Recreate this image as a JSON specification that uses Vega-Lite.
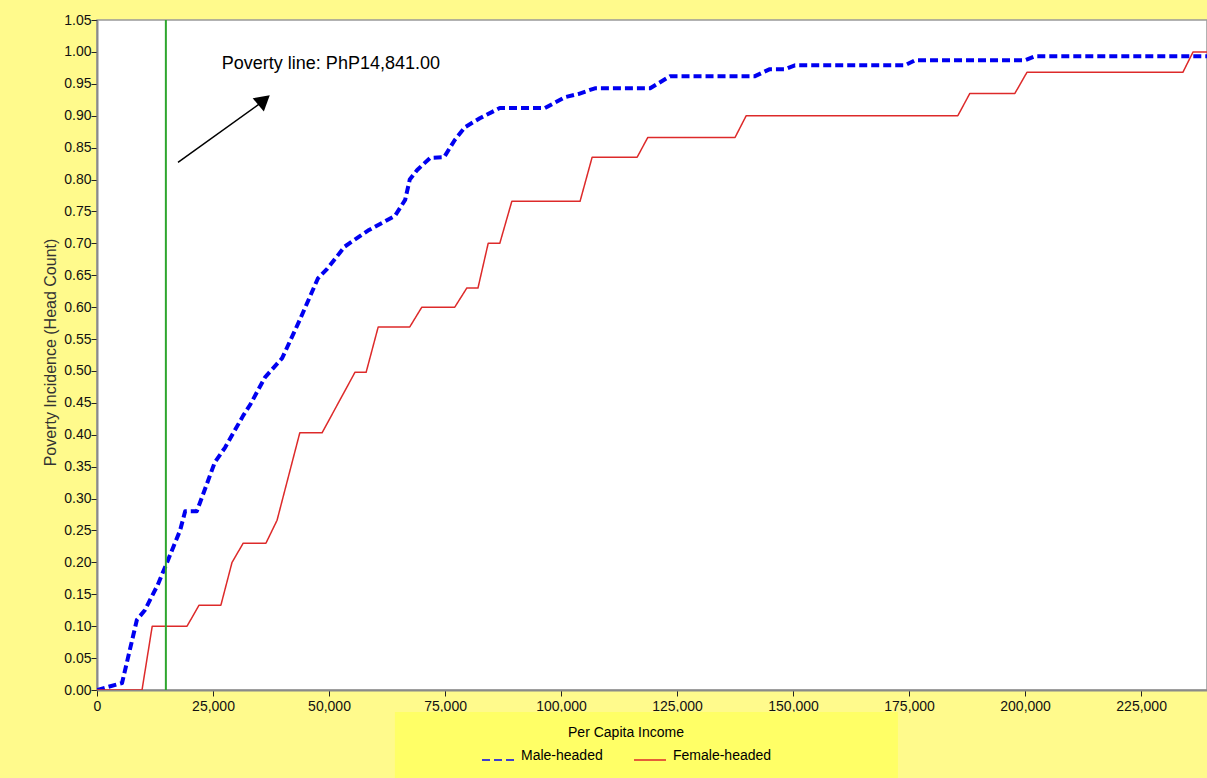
{
  "$schema": "https://vega.github.io/schema/vega-lite/v6.json",
  "width": 1110,
  "height": 670,
  "autosize": {"type": "none"},
  "padding": {"left": 97, "top": 20, "right": 0, "bottom": 88},
  "background": "#FFFA8C",
  "config": {
    "font": "Liberation Sans",
    "view": {"fill": "#FFFFFF", "stroke": "#999999", "strokeWidth": 1.5},
    "axis": {"grid": false, "labelFontSize": 14, "labelColor": "#111111", "tickColor": "#222222", "tickSize": 6, "domainColor": "#8a8a8a", "domainWidth": 2, "titleFontWeight": "normal"}
  },
  "layer": [
    {
      "data": {"values": [
        {"series": "Male-headed", "income": 0, "incidence": 0},
        {"series": "Male-headed", "income": 5400, "incidence": 0.011},
        {"series": "Male-headed", "income": 8600, "incidence": 0.11},
        {"series": "Male-headed", "income": 10300, "incidence": 0.125},
        {"series": "Male-headed", "income": 13100, "incidence": 0.165},
        {"series": "Male-headed", "income": 15100, "incidence": 0.2},
        {"series": "Male-headed", "income": 17900, "incidence": 0.25},
        {"series": "Male-headed", "income": 19000, "incidence": 0.28},
        {"series": "Male-headed", "income": 21500, "incidence": 0.28},
        {"series": "Male-headed", "income": 25400, "incidence": 0.357},
        {"series": "Male-headed", "income": 27600, "incidence": 0.38},
        {"series": "Male-headed", "income": 31500, "incidence": 0.43},
        {"series": "Male-headed", "income": 33000, "incidence": 0.447},
        {"series": "Male-headed", "income": 36200, "incidence": 0.49},
        {"series": "Male-headed", "income": 39900, "incidence": 0.52},
        {"series": "Male-headed", "income": 43700, "incidence": 0.58},
        {"series": "Male-headed", "income": 47600, "incidence": 0.645},
        {"series": "Male-headed", "income": 49600, "incidence": 0.66},
        {"series": "Male-headed", "income": 53400, "incidence": 0.695},
        {"series": "Male-headed", "income": 58400, "incidence": 0.72},
        {"series": "Male-headed", "income": 64200, "incidence": 0.743},
        {"series": "Male-headed", "income": 66400, "incidence": 0.768},
        {"series": "Male-headed", "income": 67400, "incidence": 0.8},
        {"series": "Male-headed", "income": 69000, "incidence": 0.815},
        {"series": "Male-headed", "income": 71800, "incidence": 0.834},
        {"series": "Male-headed", "income": 74800, "incidence": 0.835},
        {"series": "Male-headed", "income": 77100, "incidence": 0.862},
        {"series": "Male-headed", "income": 79300, "incidence": 0.882},
        {"series": "Male-headed", "income": 82500, "incidence": 0.896},
        {"series": "Male-headed", "income": 86800, "incidence": 0.912},
        {"series": "Male-headed", "income": 96500, "incidence": 0.912},
        {"series": "Male-headed", "income": 100800, "incidence": 0.929},
        {"series": "Male-headed", "income": 103700, "incidence": 0.934},
        {"series": "Male-headed", "income": 107300, "incidence": 0.943},
        {"series": "Male-headed", "income": 119200, "incidence": 0.943},
        {"series": "Male-headed", "income": 123500, "incidence": 0.962},
        {"series": "Male-headed", "income": 141800, "incidence": 0.962},
        {"series": "Male-headed", "income": 145000, "incidence": 0.973},
        {"series": "Male-headed", "income": 148300, "incidence": 0.973},
        {"series": "Male-headed", "income": 150400, "incidence": 0.979},
        {"series": "Male-headed", "income": 174100, "incidence": 0.979},
        {"series": "Male-headed", "income": 176300, "incidence": 0.987},
        {"series": "Male-headed", "income": 200000, "incidence": 0.987},
        {"series": "Male-headed", "income": 202100, "incidence": 0.993},
        {"series": "Male-headed", "income": 239200, "incidence": 0.993},
        {"series": "Female-headed", "income": 0, "incidence": 0},
        {"series": "Female-headed", "income": 9700, "incidence": 0},
        {"series": "Female-headed", "income": 11900, "incidence": 0.1},
        {"series": "Female-headed", "income": 19400, "incidence": 0.1},
        {"series": "Female-headed", "income": 22000, "incidence": 0.133},
        {"series": "Female-headed", "income": 26700, "incidence": 0.133},
        {"series": "Female-headed", "income": 29100, "incidence": 0.2},
        {"series": "Female-headed", "income": 31500, "incidence": 0.23},
        {"series": "Female-headed", "income": 36400, "incidence": 0.23},
        {"series": "Female-headed", "income": 38800, "incidence": 0.266},
        {"series": "Female-headed", "income": 43700, "incidence": 0.403},
        {"series": "Female-headed", "income": 48500, "incidence": 0.403},
        {"series": "Female-headed", "income": 55600, "incidence": 0.498},
        {"series": "Female-headed", "income": 58000, "incidence": 0.498},
        {"series": "Female-headed", "income": 60600, "incidence": 0.569},
        {"series": "Female-headed", "income": 67400, "incidence": 0.569},
        {"series": "Female-headed", "income": 70000, "incidence": 0.6},
        {"series": "Female-headed", "income": 77100, "incidence": 0.6},
        {"series": "Female-headed", "income": 79700, "incidence": 0.63},
        {"series": "Female-headed", "income": 82100, "incidence": 0.63},
        {"series": "Female-headed", "income": 84300, "incidence": 0.7},
        {"series": "Female-headed", "income": 86800, "incidence": 0.7},
        {"series": "Female-headed", "income": 89400, "incidence": 0.766},
        {"series": "Female-headed", "income": 104100, "incidence": 0.766},
        {"series": "Female-headed", "income": 106700, "incidence": 0.835},
        {"series": "Female-headed", "income": 116400, "incidence": 0.835},
        {"series": "Female-headed", "income": 118700, "incidence": 0.866},
        {"series": "Female-headed", "income": 137500, "incidence": 0.866},
        {"series": "Female-headed", "income": 139900, "incidence": 0.9},
        {"series": "Female-headed", "income": 185500, "incidence": 0.9},
        {"series": "Female-headed", "income": 188100, "incidence": 0.935},
        {"series": "Female-headed", "income": 197800, "incidence": 0.935},
        {"series": "Female-headed", "income": 200400, "incidence": 0.968},
        {"series": "Female-headed", "income": 234000, "incidence": 0.968},
        {"series": "Female-headed", "income": 236200, "incidence": 1.0},
        {"series": "Female-headed", "income": 239200, "incidence": 1.0}
      ]},
      "mark": {"type": "line", "strokeCap": "butt", "strokeJoin": "round", "clip": true},
      "encoding": {
        "x": {
          "field": "income", "type": "quantitative",
          "scale": {"domain": [0, 239200], "nice": false, "zero": false},
          "axis": {"values": [0, 25000, 50000, 75000, 100000, 125000, 150000, 175000, 200000, 225000], "format": ",.0f", "labelPadding": 3, "title": null, "labelFlush": false}
        },
        "y": {
          "field": "incidence", "type": "quantitative",
          "scale": {"domain": [0, 1.05], "nice": false},
          "axis": {
            "values": [0, 0.05, 0.1, 0.15, 0.2, 0.25, 0.3, 0.35, 0.4, 0.45, 0.5, 0.55, 0.6, 0.65, 0.7, 0.75, 0.8, 0.85, 0.9, 0.95, 1.0, 1.05],
            "format": ".2f", "labelPadding": 0, "labelFlush": false,
            "title": "Poverty Incidence (Head Count)", "titleFontSize": 16, "titleColor": "#333333",
            "titleX": -47, "titleY": 332, "titleAngle": -90, "titleBaseline": "middle", "titleAlign": "center"
          }
        },
        "color": {
          "field": "series", "type": "nominal", "title": "Per Capita Income",
          "scale": {"domain": ["Male-headed", "Female-headed"], "range": ["#0000F0", "#DD2A2A"]},
          "legend": {
            "orient": "none", "legendX": 384, "legendY": 706, "direction": "horizontal",
            "titleAnchor": "middle", "titleFontSize": 14, "titleFontWeight": "normal", "titleColor": "#000000", "titlePadding": 3,
            "labelFontSize": 14, "labelColor": "#000000", "labelBaseline": "alphabetic",
            "symbolType": "stroke", "symbolSize": 1024, "symbolStrokeWidth": 1.5,
            "columnPadding": 28, "labelOffset": 6, "padding": 0
          }
        },
        "strokeDash": {
          "field": "series", "type": "nominal", "title": "Per Capita Income",
          "scale": {"domain": ["Male-headed", "Female-headed"], "range": [[8, 4], [1, 0]]}
        },
        "strokeWidth": {"condition": {"test": "datum.series === 'Male-headed'", "value": 4}, "value": 1.5}
      }
    },
    {
      "data": {"values": [{}]},
      "mark": {"type": "rect", "fill": "#FFFF66", "clip": false},
      "encoding": {
        "x": {"datum": 64200, "type": "quantitative",
          "scale": {"domain": [0, 239200], "nice": false, "zero": false},
          "axis": {"values": [0, 25000, 50000, 75000, 100000, 125000, 150000, 175000, 200000, 225000], "format": ",.0f", "labelPadding": 3, "title": null, "labelFlush": false}},
        "x2": {"datum": 172600},
        "y": {"datum": -0.0345, "type": "quantitative",
          "scale": {"domain": [0, 1.05], "nice": false},
          "axis": {
            "values": [0, 0.05, 0.1, 0.15, 0.2, 0.25, 0.3, 0.35, 0.4, 0.45, 0.5, 0.55, 0.6, 0.65, 0.7, 0.75, 0.8, 0.85, 0.9, 0.95, 1.0, 1.05],
            "format": ".2f", "labelPadding": 0, "labelFlush": false,
            "title": "Poverty Incidence (Head Count)", "titleFontSize": 16, "titleColor": "#333333",
            "titleX": -47, "titleY": 332, "titleAngle": -90, "titleBaseline": "middle", "titleAlign": "center"
          }},
        "y2": {"datum": -0.14}
      }
    },
    {
      "data": {"values": [{"poverty_line": 14841}]},
      "mark": {"type": "rule", "color": "#2EA62E", "strokeWidth": 2},
      "encoding": {"x": {"field": "poverty_line", "type": "quantitative",
          "scale": {"domain": [0, 239200], "nice": false, "zero": false},
          "axis": {"values": [0, 25000, 50000, 75000, 100000, 125000, 150000, 175000, 200000, 225000], "format": ",.0f", "labelPadding": 3, "title": null, "labelFlush": false}}}
    },
    {
      "data": {"values": [{"x": 17455, "y": 0.827, "x2": 34910, "y2": 0.918}]},
      "mark": {"type": "rule", "color": "#000000", "strokeWidth": 1.5},
      "encoding": {
        "x": {"field": "x", "type": "quantitative", "axis": {"values": [0, 25000, 50000, 75000, 100000, 125000, 150000, 175000, 200000, 225000], "format": ",.0f", "labelPadding": 3, "title": null, "labelFlush": false}},
        "y": {"field": "y", "type": "quantitative", "axis": {
            "values": [0, 0.05, 0.1, 0.15, 0.2, 0.25, 0.3, 0.35, 0.4, 0.45, 0.5, 0.55, 0.6, 0.65, 0.7, 0.75, 0.8, 0.85, 0.9, 0.95, 1.0, 1.05],
            "format": ".2f", "labelPadding": 0, "labelFlush": false,
            "title": "Poverty Incidence (Head Count)", "titleFontSize": 16, "titleColor": "#333333",
            "titleX": -47, "titleY": 332, "titleAngle": -90, "titleBaseline": "middle", "titleAlign": "center"
          }},
        "x2": {"field": "x2"},
        "y2": {"field": "y2"}
      }
    },
    {
      "data": {"values": [{"x": 35990, "y": 0.9245}]},
      "mark": {"type": "point", "shape": "triangle-up", "filled": true, "color": "#000000", "opacity": 1, "size": 300, "angle": 50},
      "encoding": {
        "x": {"field": "x", "type": "quantitative", "axis": {"values": [0, 25000, 50000, 75000, 100000, 125000, 150000, 175000, 200000, 225000], "format": ",.0f", "labelPadding": 3, "title": null, "labelFlush": false}},
        "y": {"field": "y", "type": "quantitative", "axis": {
            "values": [0, 0.05, 0.1, 0.15, 0.2, 0.25, 0.3, 0.35, 0.4, 0.45, 0.5, 0.55, 0.6, 0.65, 0.7, 0.75, 0.8, 0.85, 0.9, 0.95, 1.0, 1.05],
            "format": ".2f", "labelPadding": 0, "labelFlush": false,
            "title": "Poverty Incidence (Head Count)", "titleFontSize": 16, "titleColor": "#333333",
            "titleX": -47, "titleY": 332, "titleAngle": -90, "titleBaseline": "middle", "titleAlign": "center"
          }}
      }
    },
    {
      "data": {"values": [{"x": 26900, "y": 0.981, "label": "Poverty line: PhP14,841.00"}]},
      "mark": {"type": "text", "align": "left", "baseline": "middle", "fontSize": 18, "color": "#000000"},
      "encoding": {
        "x": {"field": "x", "type": "quantitative", "axis": {"values": [0, 25000, 50000, 75000, 100000, 125000, 150000, 175000, 200000, 225000], "format": ",.0f", "labelPadding": 3, "title": null, "labelFlush": false}},
        "y": {"field": "y", "type": "quantitative", "axis": {
            "values": [0, 0.05, 0.1, 0.15, 0.2, 0.25, 0.3, 0.35, 0.4, 0.45, 0.5, 0.55, 0.6, 0.65, 0.7, 0.75, 0.8, 0.85, 0.9, 0.95, 1.0, 1.05],
            "format": ".2f", "labelPadding": 0, "labelFlush": false,
            "title": "Poverty Incidence (Head Count)", "titleFontSize": 16, "titleColor": "#333333",
            "titleX": -47, "titleY": 332, "titleAngle": -90, "titleBaseline": "middle", "titleAlign": "center"
          }},
        "text": {"field": "label"}
      }
    }
  ]
}
